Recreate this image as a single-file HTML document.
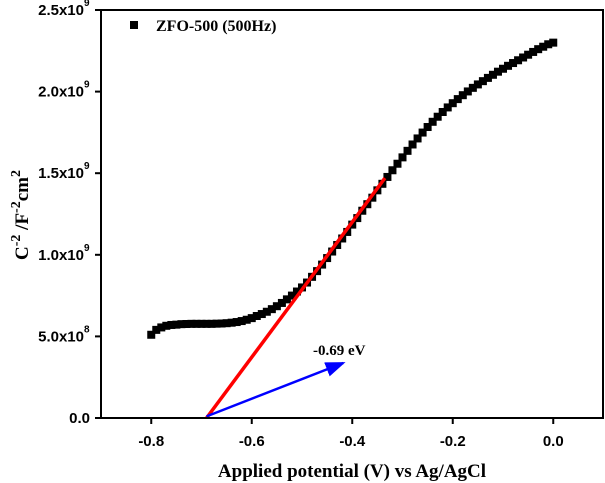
<!DOCTYPE html>
<html><head><meta charset="utf-8"><style>
body{margin:0;background:#fff}
svg{display:block}
.tk{font-family:"Liberation Sans",sans-serif;font-weight:bold;font-size:15px}
.ex{font-family:"Liberation Sans",sans-serif;font-weight:bold;font-size:10px}
.sr{font-family:"Liberation Serif",serif;font-weight:bold}
</style></head><body>
<svg id="chart" width="605" height="483">
<defs><marker id="ah" markerWidth="8" markerHeight="6" refX="7" refY="3" orient="auto"><path d="M0,0L8,3L0,6z" fill="#0000ff"/></marker></defs>
<g id="marks"></g>
<rect x="101" y="10" width="502" height="408" fill="none" stroke="#000" stroke-width="2"/>
<g id="axes"></g>
<g>
<rect x="130" y="21" width="8" height="8" fill="#000"/>
<text x="156" y="31" class="sr" style="font-size:16px">ZFO-500 (500Hz)</text>
</g>
<text x="313" y="355" class="sr" style="font-size:15px">-0.69 eV</text>
<text x="352" y="477" text-anchor="middle" class="sr" style="font-size:19px">Applied potential (V) vs Ag/AgCl</text>
<text transform="translate(28,215) rotate(-90)" text-anchor="middle" class="sr" style="font-size:19px">C<tspan dy="-8" style="font-size:14px">-2</tspan><tspan dy="8"> /F</tspan><tspan dy="-8" style="font-size:14px">-2</tspan><tspan dy="8">cm</tspan><tspan dy="-8" style="font-size:14px">2</tspan></text>
</svg>
<script>
const potentials=[-0.80,-0.79,-0.78,-0.77,-0.76,-0.75,-0.74,-0.73,-0.72,-0.71,-0.70,-0.69,-0.68,-0.67,-0.66,-0.65,-0.64,-0.63,-0.62,-0.61,-0.60,-0.59,-0.58,-0.57,-0.56,-0.55,-0.54,-0.53,-0.52,-0.51,-0.50,-0.49,-0.48,-0.47,-0.46,-0.45,-0.44,-0.43,-0.42,-0.41,-0.40,-0.39,-0.38,-0.37,-0.36,-0.35,-0.34,-0.33,-0.32,-0.31,-0.30,-0.29,-0.28,-0.27,-0.26,-0.25,-0.24,-0.23,-0.22,-0.21,-0.20,-0.19,-0.18,-0.17,-0.16,-0.15,-0.14,-0.13,-0.12,-0.11,-0.10,-0.09,-0.08,-0.07,-0.06,-0.05,-0.04,-0.03,-0.02,-0.01,0.00];
const csq=[0.51,0.54,0.555,0.565,0.57,0.572,0.575,0.576,0.577,0.577,0.577,0.577,0.577,0.578,0.579,0.581,0.584,0.588,0.594,0.602,0.612,0.625,0.637,0.651,0.667,0.685,0.705,0.727,0.75,0.775,0.80,0.83,0.865,0.90,0.94,0.98,1.02,1.06,1.10,1.14,1.185,1.225,1.27,1.31,1.35,1.395,1.435,1.477,1.518,1.558,1.597,1.637,1.676,1.713,1.749,1.783,1.815,1.846,1.875,1.903,1.929,1.954,1.978,2.001,2.023,2.044,2.064,2.084,2.103,2.122,2.140,2.158,2.175,2.192,2.209,2.226,2.243,2.26,2.275,2.29,2.30];
const fitLine=[[-0.69,0],[-0.335,1.47]];
const arrowLine=[[-0.69,0.01],[-0.418,0.337]];
const xTicks=[-0.8,-0.6,-0.4,-0.2,0.0];
const xTickLabels=["-0.8","-0.6","-0.4","-0.2","0.0"];
const yTicks=[0,0.5,1.0,1.5,2.0,2.5];
const yTickMant=["0.0","5.0x10","1.0x10","1.5x10","2.0x10","2.5x10"];
const yTickExp=["","8","9","9","9","9"];
const X=v=>101+(v+0.9)/1.0*502.5;
const Y=v=>418-v/2.5*408;
const NS="http://www.w3.org/2000/svg";
function mk(t,a,p){const e=document.createElementNS(NS,t);for(const k in a)e.setAttribute(k,a[k]);p.appendChild(e);return e;}
const marks=document.getElementById('marks'),axes=document.getElementById('axes');
potentials.forEach((p,i)=>{const r=mk('rect',{x:X(p)-4,y:Y(csq[i])-4,width:8,height:8,fill:'#000'},marks);

});
const fl=mk('line',{x1:X(fitLine[0][0]),y1:Y(fitLine[0][1]),x2:X(fitLine[1][0]),y2:Y(fitLine[1][1]),stroke:'#ff0000','stroke-width':3.5},marks);


const al=mk('line',{x1:X(arrowLine[0][0]),y1:Y(arrowLine[0][1]),x2:X(arrowLine[1][0]),y2:Y(arrowLine[1][1]),stroke:'#0000ff','stroke-width':2.5,'marker-end':'url(#ah)'},marks);


xTicks.forEach((v,i)=>{mk('line',{x1:X(v),x2:X(v),y1:418,y2:424,stroke:'#000','stroke-width':2},axes);
const t=mk('text',{x:X(v),y:446,'text-anchor':'middle',class:'tk'},axes);t.textContent=xTickLabels[i];

});
yTicks.forEach((v,i)=>{mk('line',{x1:95,x2:101,y1:Y(v),y2:Y(v),stroke:'#000','stroke-width':2},axes);
const t=mk('text',{x:yTickExp[i]?84:90,y:Y(v)+5,'text-anchor':'end',class:'tk'},axes);t.textContent=yTickMant[i];


if(yTickExp[i]){const e=mk('text',{x:84,y:Y(v)-4,class:'ex'},axes);e.textContent=yTickExp[i];

}});
</script>
</body></html>
